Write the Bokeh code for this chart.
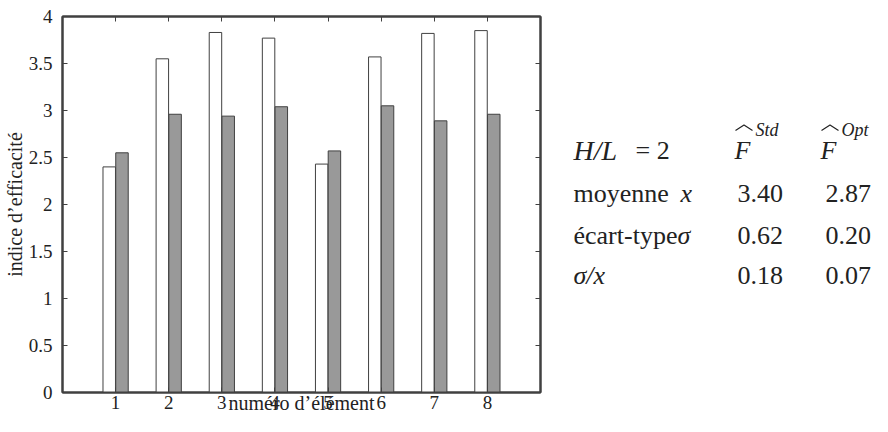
import numpy as np
from bokeh.plotting import figure
from bokeh.layouts import row
from bokeh.models import Range1d, FixedTicker, LinearAxis, ColumnDataSource, Label
from bokeh.transform import dodge
from bokeh.embed import file_html
from bokeh.resources import INLINE

# ---------------- data ----------------
elements = [1, 2, 3, 4, 5, 6, 7, 8]
f_std = [2.40, 3.55, 3.83, 3.77, 2.43, 3.57, 3.82, 3.85]
f_opt = [2.55, 2.96, 2.94, 3.04, 2.57, 3.05, 2.89, 2.96]
y_ticks = [0, 0.5, 1, 1.5, 2, 2.5, 3, 3.5, 4]
y_tick_labels = ["0", "0.5", "1", "1.5", "2", "2.5", "3", "3.5", "4"]
x_label = "numéro d’élément"
y_label = "indice d’efficacité"

table_title = "H/L"
table_title_value = "= 2"
table_columns = ["Std", "Opt"]
row_words = ["moyenne", "écart-type", ""]
row_symbols = ["x", "σ", "σ/x"]
col_std = ["3.40", "0.62", "0.18"]
col_opt = ["2.87", "0.20", "0.07"]

SERIF = "Liberation Serif"
AX = "#404040"
TXT = "#222222"

# ---------------- bar chart ----------------
src = ColumnDataSource(dict(el=elements, std=f_std, opt=f_opt))

p = figure(width=548, height=416, x_range=Range1d(0, 9), y_range=Range1d(0, 4),
           output_backend="svg", toolbar_location=None,
           min_border_left=56, min_border_right=8, min_border_top=16, min_border_bottom=0)
p.xgrid.visible = False
p.ygrid.visible = False
p.outline_line_color = AX
p.outline_line_width = 2
p.background_fill_color = "white"
p.border_fill_color = "white"

p.vbar(x=dodge("el", -0.12, range=p.x_range), top="std", width=0.235, source=src,
       fill_color="white", line_color=AX, line_width=1)
p.vbar(x=dodge("el", 0.12, range=p.x_range), top="opt", width=0.235, source=src,
       fill_color="#999999", line_color=AX, line_width=1)

xa = p.xaxis[0]
xa.ticker = FixedTicker(ticks=elements)
ya = p.yaxis[0]
ya.ticker = FixedTicker(ticks=y_ticks)
ya.major_label_overrides = {float(t): l for t, l in zip(y_ticks, y_tick_labels)}

for ax in (xa, ya):
    ax.axis_line_color = AX
    ax.axis_line_width = 2
    ax.major_tick_line_color = AX
    ax.major_tick_in = 5
    ax.major_tick_out = 0
    ax.minor_tick_line_color = None
    ax.major_label_text_font = SERIF
    ax.major_label_text_font_size = "19px"
    ax.major_label_text_color = TXT
    ax.axis_label_text_font = SERIF
    ax.axis_label_text_font_size = "20px"
    ax.axis_label_text_font_style = "normal"
    ax.axis_label_text_color = TXT

xa.major_label_standoff = 3
ya.axis_label = y_label
ya.major_label_standoff = 10
ya.axis_label_standoff = 0

# second bottom axis that only carries the x title, tucked under the tick labels
xt = LinearAxis(ticker=FixedTicker(ticks=[]), axis_label=x_label)
xt.axis_line_color = None
xt.major_tick_line_color = None
xt.minor_tick_line_color = None
xt.major_tick_in = 0
xt.major_tick_out = 0
xt.major_label_text_font_size = "0px"
xt.major_label_standoff = 0
xt.axis_label_standoff = -20
xt.axis_label_text_font = SERIF
xt.axis_label_text_font_size = "20px"
xt.axis_label_text_font_style = "normal"
xt.axis_label_text_color = TXT
p.add_layout(xt, "below")

top = LinearAxis(ticker=FixedTicker(ticks=elements))
right = LinearAxis(ticker=FixedTicker(ticks=y_ticks))
for ax in (top, right):
    ax.axis_line_color = AX
    ax.axis_line_width = 2
    ax.major_tick_line_color = AX
    ax.major_tick_in = 5
    ax.major_tick_out = 0
    ax.minor_tick_line_color = None
    ax.major_label_text_font_size = "0px"
    ax.major_label_text_alpha = 0
    ax.major_label_standoff = 0
p.add_layout(top, "above")
p.add_layout(right, "right")

# ---------------- table (page-pixel coordinates) ----------------
t = figure(width=324, height=416, x_range=Range1d(556, 880), y_range=Range1d(424, 8),
           output_backend="svg", toolbar_location=None,
           min_border=0, outline_line_color=None)
t.axis.visible = False
t.xgrid.visible = False
t.ygrid.visible = False
t.background_fill_color = "white"
t.border_fill_color = "white"

FS = "26px"
SUP = "18px"
base = [156, 204, 250, 294]
label_x = 581
sym_x = [688, 685, 581]
col_x = [745, 833]
F_x = [742, 828]


def put(x, y, text, size=FS, style="normal"):
    t.add_layout(Label(x=x, y=y, text=text, text_font=SERIF, text_font_size=size,
                       text_font_style=style, text_color=TXT, text_baseline="alphabetic"))


# header
put(label_x, base[0], table_title, size="28px", style="italic")
put(643, base[0], table_title_value)
for fx, col in zip(F_x, table_columns):
    put(fx, base[0], "F", style="italic")
    put(fx + 21, base[0] - 22, col, size=SUP, style="italic")
    t.line(x=[fx + 1, fx + 9.5, fx + 18], y=[base[0] - 22, base[0] - 28, base[0] - 22],
           line_color=TXT, line_width=1.2)

# rows
for i in range(3):
    b = base[i + 1]
    if row_words[i]:
        put(label_x, b, row_words[i])
    put(sym_x[i], b, row_symbols[i], style="italic")
    put(col_x[0], b, col_std[i])
    put(col_x[1], b, col_opt[i])

layout = row(p, t)
open("out.html", "w").write(file_html(layout, INLINE))
